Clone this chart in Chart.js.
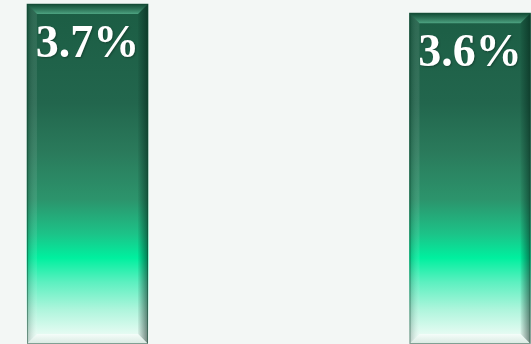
<!DOCTYPE html>
<html>
<head>
<meta charset="utf-8">
<script src="https://cdn.jsdelivr.net/npm/chart.js@4"></script>
<style>
  html, body { margin: 0; padding: 0; background: #f3f7f5; overflow: hidden; }
  #wrap { width: 531px; height: 344px; }
</style>
</head>
<body>
<div id="wrap"><canvas id="c" width="531" height="344"></canvas></div>
<script>
// Two periods, one rate each
const categories = ['Period 1', 'Period 2'];
const positions = [0, 1];
const rates = [3.7, 3.6];
const rateLabels = ['3.7%', '3.6%'];

// Vertical fill: deep green at the top, bright mint lower down, fading to white at the base
function barFill(ctx) {
  const chart = ctx.chart;
  const area = chart.chartArea;
  if (!area) return '#1e6248';
  const g = chart.ctx.createLinearGradient(0, area.top, 0, area.bottom);
  g.addColorStop(0.00, '#1b5c43');
  g.addColorStop(0.30, '#22664d');
  g.addColorStop(0.44, '#2a7a5b');
  g.addColorStop(0.58, '#2c946c');
  g.addColorStop(0.68, '#1cc388');
  g.addColorStop(0.75, '#00f09f');
  g.addColorStop(0.82, '#5cf0c0');
  g.addColorStop(0.90, '#aef5dc');
  g.addColorStop(0.97, '#e4fbf2');
  g.addColorStop(1.00, '#f0fcf8');
  return g;
}

// Bevelled edges drawn over each bar
const bevel = {
  id: 'bevel',
  afterDatasetsDraw(chart) {
    const ctx = chart.ctx;
    const meta = chart.getDatasetMeta(0);
    const b = 10;
    meta.data.forEach(el => {
      const w = el.width;
      const L = el.x - w / 2, R = el.x + w / 2, T = el.y, B = el.base;
      ctx.save();
      // top facet
      let g = ctx.createLinearGradient(0, T, 0, T + b);
      g.addColorStop(0, 'rgba(10,60,40,0.45)');
      g.addColorStop(1, 'rgba(110,210,170,0.6)');
      ctx.fillStyle = g;
      ctx.beginPath();
      ctx.moveTo(L, T); ctx.lineTo(R, T); ctx.lineTo(R - b, T + b); ctx.lineTo(L + b, T + b);
      ctx.closePath(); ctx.fill();
      // left facet
      g = ctx.createLinearGradient(L, 0, L + b, 0);
      g.addColorStop(0, 'rgba(0,40,25,0.25)');
      g.addColorStop(1, 'rgba(255,255,255,0.08)');
      ctx.fillStyle = g;
      ctx.beginPath();
      ctx.moveTo(L, T); ctx.lineTo(L + b, T + b); ctx.lineTo(L + b, B - b); ctx.lineTo(L, B);
      ctx.closePath(); ctx.fill();
      // right facet
      g = ctx.createLinearGradient(R - b, 0, R, 0);
      g.addColorStop(0, 'rgba(0,30,20,0.05)');
      g.addColorStop(1, 'rgba(0,30,20,0.55)');
      ctx.fillStyle = g;
      ctx.beginPath();
      ctx.moveTo(R, T); ctx.lineTo(R - b, T + b); ctx.lineTo(R - b, B - b); ctx.lineTo(R, B);
      ctx.closePath(); ctx.fill();
      // bottom facet
      g = ctx.createLinearGradient(0, B - b, 0, B);
      g.addColorStop(0, 'rgba(255,255,255,0.6)');
      g.addColorStop(1, 'rgba(200,220,210,0.6)');
      ctx.fillStyle = g;
      ctx.beginPath();
      ctx.moveTo(L, B); ctx.lineTo(L + b, B - b); ctx.lineTo(R - b, B - b); ctx.lineTo(R, B);
      ctx.closePath(); ctx.fill();
      // rim
      ctx.strokeStyle = 'rgba(20,70,50,0.45)';
      ctx.lineWidth = 1;
      ctx.strokeRect(L + 0.5, T + 0.5, w - 1, B - T - 1);
      ctx.restore();
    });
  }
};

// Value labels inside the top of each bar
const valueLabels = {
  id: 'valueLabels',
  afterDatasetsDraw(chart) {
    const ctx = chart.ctx;
    const meta = chart.getDatasetMeta(0);
    ctx.save();
    ctx.font = 'bold 46px "Liberation Serif", serif';
    ctx.textAlign = 'center';
    ctx.textBaseline = 'middle';
    ctx.fillStyle = '#ffffff';
    ctx.shadowColor = 'rgba(0,0,0,0.3)';
    ctx.shadowBlur = 2;
    ctx.shadowOffsetX = 1;
    ctx.shadowOffsetY = 1;
    meta.data.forEach((el, i) => {
      ctx.fillText(rateLabels[i], el.x, el.y + 41);
    });
    ctx.restore();
  }
};

new Chart(document.getElementById('c'), {
  type: 'bar',
  data: {
    labels: categories,
    datasets: [{
      data: positions.map((p, i) => ({ x: p, y: rates[i] })),
      backgroundColor: barFill,
      borderWidth: 0,
      barThickness: 121
    }]
  },
  options: {
    responsive: false,
    devicePixelRatio: 1,
    animation: false,
    layout: { padding: 0 },
    plugins: { legend: { display: false }, tooltip: { enabled: false } },
    scales: {
      x: { type: 'linear', display: false, offset: false, bounds: 'ticks', min: -0.2288, max: 1.1595 },
      y: { display: false, min: 0, max: 3.7435 }
    }
  },
  plugins: [bevel, valueLabels]
});
</script>
</body>
</html>
